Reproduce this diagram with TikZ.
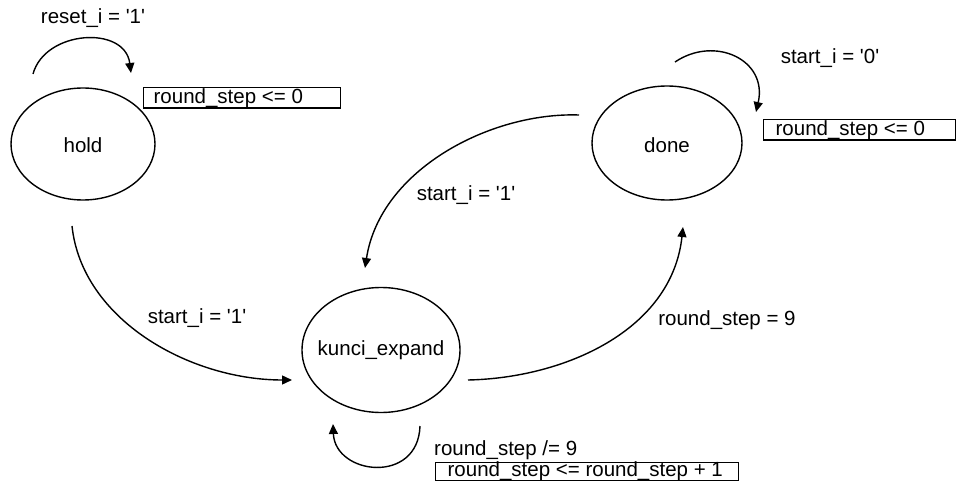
\documentclass[tikz,border=0pt]{standalone}
\usepackage{fontspec}
\setmainfont{Liberation Sans}
\usetikzlibrary{shapes.geometric,arrows.meta,calc}

\newcommand\sq{\textquotesingle}

\tikzset{
  state/.style={draw, ellipse, line width=1.4pt, inner sep=0pt},
  trans/.style={line width=1.4pt, -{Triangle[length=10pt,width=9pt]}},
  lbl/.style={inner sep=0pt, font=\fontsize{20.5}{24}\selectfont},
  actbox/.style={draw, line width=1.3pt, anchor=north west, inner ysep=0pt,
                 font=\fontsize{20.5}{24}\selectfont}
}

\begin{document}
\begin{tikzpicture}[x=1pt, y=-1pt]
  \useasboundingbox (0,0) rectangle (956,481);

  % states
  \node[state, minimum width=144pt, minimum height=112pt] (hold) at (83,144) {};
  \node[lbl] (holdtxt) at (83,145) {hold};
  \node[state, minimum width=150pt, minimum height=114pt] (done) at (667,143) {};
  \node[lbl] (donetxt) at (667,145) {done};
  \node[state, minimum width=158pt, minimum height=125pt] (kunci) at (381,350) {};
  \node[lbl] (kuncitxt) at (381,350) {kunci\_expand};

  % connector end points, each a little off its state
  \coordinate (hkS) at ($(hold.center)+(-11,82)$);
  \coordinate (hkE) at ($(kunci.center)+(-89,30)$);
  \coordinate (dkS) at ($(done.center)+(-88,-28)$);
  \coordinate (dkE) at ($(kunci.center)+(-16,-82)$);
  \coordinate (kdS) at ($(kunci.center)+(87,30)$);
  \coordinate (kdE) at ($(done.center)+(16,84)$);
  \coordinate (hlS) at ($(hold.center)+(-50,-70)$);
  \coordinate (hlE) at ($(hold.center)+(48,-71)$);
  \coordinate (dlS) at ($(done.center)+(8,-81)$);
  \coordinate (dlE) at ($(done.center)+(89,-31)$);
  \coordinate (klS) at ($(kunci.center)+(39,76)$);
  \coordinate (klE) at ($(kunci.center)+(-48,74)$);

  % transitions
  \draw[trans] (hkS) .. controls (82,320) and (190,380) .. (hkE);
  \draw[trans] (dkS) .. controls (490,112) and (380,170) .. (dkE);
  \draw[trans] (kdS) .. controls (565,378) and (672,330) .. (kdE);

  % self loops
  \draw[trans] (hlS) .. controls (45,30) and (125,25) .. (hlE);
  \draw[trans] (dlS) .. controls (715,35) and (768,60) .. (dlE);
  \draw[trans] (klS) .. controls (418,485) and (335,475) .. (klE);

  % conditions
  \node[lbl] (c1) at (93,18) {reset\_i = \sq1\sq};
  \node[lbl] (c2) at (830,58) {start\_i = \sq0\sq};
  \node[lbl] (c3) at (197,318) {start\_i = \sq1\sq};
  \node[lbl] (c4) at (466,195) {start\_i = \sq1\sq};
  \node[lbl] (c5) at (727,320) {round\_step = 9};
  \node[lbl, anchor=west] (c6) at (434,450) {round\_step /= 9};

  % actions
  \node[actbox, inner xsep=10pt, text height=16pt, text depth=4.5pt]
    (a1) at (143,87) {\makebox[177pt][l]{round\_step <= 0}};
  \node[actbox, inner xsep=12pt, text height=16pt, text depth=4.5pt]
    (a2) at (763,119) {\makebox[168pt][l]{round\_step <= 0}};
  \node[actbox, inner xsep=12pt, text height=14pt, text depth=4pt]
    (a3) at (435,462) {\makebox[279pt][l]{round\_step <= round\_step + 1}};
\end{tikzpicture}
\end{document}
